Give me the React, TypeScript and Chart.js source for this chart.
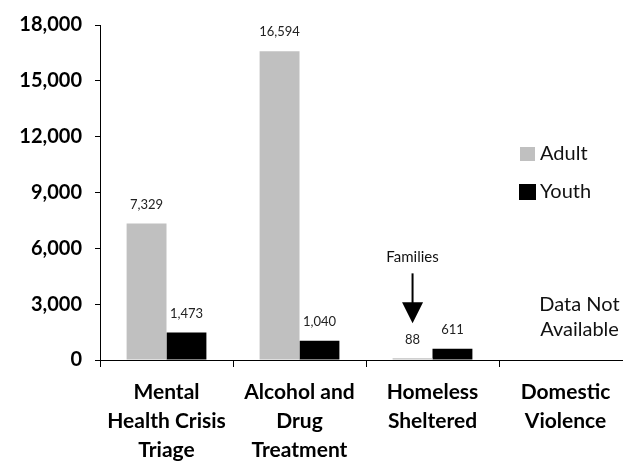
import React, { useEffect, useRef } from "react";
import { Chart, registerables } from "chart.js";

Chart.register(...registerables);

const categories: string[][] = [
  ["Mental", "Health Crisis", "Triage"],
  ["Alcohol and", "Drug", "Treatment"],
  ["Homeless", "Sheltered"],
  ["Domestic", "Violence"],
];
const seriesNames = ["Adult", "Youth"];
const adultValues: (number | null)[] = [7329, 16594, 88, null];
const youthValues: (number | null)[] = [1473, 1040, 611, null];
const yMin = 0;
const yMax = 18000;
const yStep = 3000;
const annotationText = "Families";
const annotationCategoryIndex = 2;
const noDataCategoryIndex = 3;
const noDataLines = ["Data Not", "Available"];

const FONT = "Lato, 'Open Sans', 'DejaVu Sans', sans-serif";
const ADULT_COLOR = "#C0C0C0";
const YOUTH_COLOR = "#000000";

const overlayPlugin = {
  id: "overlay",
  afterDatasetsDraw(chart: any) {
    const ctx: CanvasRenderingContext2D = chart.ctx;
    ctx.save();
    // value labels
    ctx.font = `13px ${FONT}`;
    ctx.fillStyle = "#222";
    ctx.textAlign = "center";
    ctx.textBaseline = "middle";
    chart.data.datasets.forEach((ds: any, i: number) => {
      const meta = chart.getDatasetMeta(i);
      meta.data.forEach((el: any, j: number) => {
        const v = ds.data[j];
        if (v == null) return;
        ctx.fillText(Number(v).toLocaleString("en-US"), el.x, el.y - 19);
      });
    });

    // Families annotation with arrow
    const aEl = chart.getDatasetMeta(0).data[annotationCategoryIndex];
    if (aEl) {
      const labelY = aEl.y - 19;
      const tip = labelY - 16;
      const base = tip - 21;
      const top = base - 29;
      ctx.fillStyle = "#111";
      ctx.font = `15px ${FONT}`;
      ctx.fillText(annotationText, aEl.x, top - 16);
      ctx.strokeStyle = "#000";
      ctx.lineWidth = 2;
      ctx.beginPath();
      ctx.moveTo(aEl.x, top);
      ctx.lineTo(aEl.x, base + 1);
      ctx.stroke();
      ctx.fillStyle = "#000";
      ctx.beginPath();
      ctx.moveTo(aEl.x - 10.5, base);
      ctx.lineTo(aEl.x + 10.5, base);
      ctx.lineTo(aEl.x, tip);
      ctx.closePath();
      ctx.fill();
    }

    // Data Not Available
    const xScale = chart.scales.x;
    const cx = xScale.getPixelForValue(noDataCategoryIndex) + 14;
    ctx.fillStyle = "#111";
    ctx.font = `20px ${FONT}`;
    ctx.fillText(noDataLines[0], cx, 305);
    ctx.fillText(noDataLines[1], cx, 330);

    // Legend
    const colors = [ADULT_COLOR, YOUTH_COLOR];
    const legendY = [154, 192];
    ctx.textAlign = "left";
    seriesNames.forEach((name, i) => {
      ctx.fillStyle = colors[i];
      if (i === 0) ctx.fillRect(520, legendY[i] - 7, 15, 14);
      else ctx.fillRect(519, legendY[i] - 8, 17, 16);
      ctx.fillStyle = "#111";
      ctx.fillText(name, 540, legendY[i]);
    });

    // extend baseline to right edge
    const yZero = chart.scales.y.getPixelForValue(0);
    ctx.strokeStyle = "#000";
    ctx.lineWidth = 1;
    ctx.beginPath();
    ctx.moveTo(chart.chartArea.left, Math.round(yZero) + 0.5);
    ctx.lineTo(chart.width, Math.round(yZero) + 0.5);
    ctx.stroke();
    ctx.restore();
  },
};

export default function App() {
  const canvasRef = useRef<HTMLCanvasElement | null>(null);

  useEffect(() => {
    document.body.style.margin = "0";
    const canvas = canvasRef.current;
    if (!canvas) return;
    const chart = new Chart(canvas, {
      type: "bar",
      data: {
        labels: categories,
        datasets: [
          {
            label: seriesNames[0],
            data: adultValues,
            backgroundColor: ADULT_COLOR,
            borderWidth: 0,
            categoryPercentage: 0.6,
            barPercentage: 1,
          },
          {
            label: seriesNames[1],
            data: youthValues,
            backgroundColor: YOUTH_COLOR,
            borderWidth: 0,
            categoryPercentage: 0.6,
            barPercentage: 1,
          },
        ],
      },
      options: {
        responsive: false,
        animation: false,
        devicePixelRatio: 1,
        layout: { padding: { top: 17, right: 8, left: 0, bottom: 0 } },
        plugins: {
          legend: { display: false },
          tooltip: { enabled: false },
        },
        scales: {
          x: {
            grid: {
              drawOnChartArea: false,
              drawTicks: true,
              tickLength: 7,
              color: "#000",
              offset: true,
            },
            border: { color: "#000", width: 1 },
            ticks: {
              font: { family: FONT, weight: "bold", size: 21, lineHeight: 29 / 21 },
              color: "#000",
              padding: 11,
              maxRotation: 0,
              autoSkip: false,
            },
            afterFit: (s: any) => {
              s.height = 106;
            },
          },
          y: {
            min: yMin,
            max: yMax,
            ticks: {
              stepSize: yStep,
              callback: (v: any) => Number(v).toLocaleString("en-US"),
              font: { family: FONT, weight: "bold", size: 20 },
              color: "#000",
              padding: 13,
            },
            grid: {
              drawOnChartArea: false,
              drawTicks: true,
              tickLength: 5,
              color: "#000",
            },
            border: { color: "#000", width: 1 },
            afterFit: (s: any) => {
              s.width = 100;
            },
          },
        },
      } as any,
      plugins: [overlayPlugin],
    });
    return () => chart.destroy();
  }, []);

  return (
    <div style={{ width: 623, height: 466, overflow: "hidden", background: "#fff" }}>
      <canvas ref={canvasRef} width={640} height={466} style={{ display: "block" }} />
    </div>
  );
}
